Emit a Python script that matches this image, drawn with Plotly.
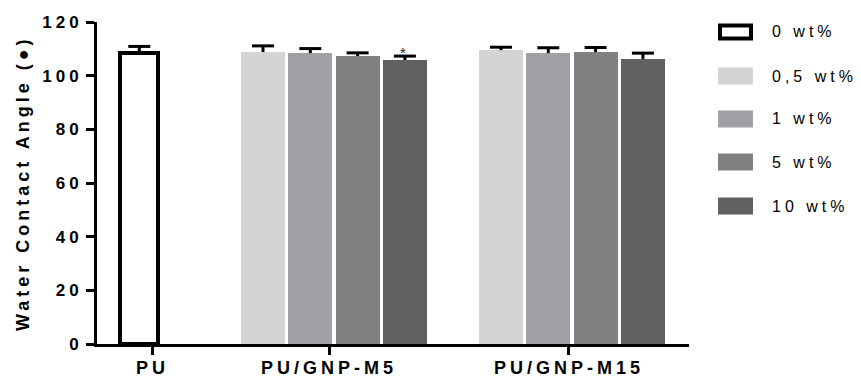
import plotly.graph_objects as go

# ---- data ----
categories = ["PU", "PU/GNP-M5", "PU/GNP-M15"]
series_labels = ["0 wt%", "0,5 wt%", "1 wt%", "5 wt%", "10 wt%"]
y_title = "Water Contact Angle (●)"
pu_mean = [108.3]
pu_err = [2.6]
m5_mean = [108.8, 108.4, 107.3, 105.8]
m5_err = [2.3, 1.7, 1.2, 1.5]
m15_mean = [109.5, 108.4, 108.8, 106.2]
m15_err = [1.1, 2.0, 1.7, 2.2]
significant = [False, False, False, True]  # PU/GNP-M5 series marked with *

# ---- layout parameters (positions along a pixel-like x axis) ----
tick_pos = [55.7, 232.0, 471.7]
pu_bar_pos = 42.3
group_first_bar = {"PU/GNP-M5": 166.0, "PU/GNP-M15": 404.0}
bar_pitch = 47.3
bar_w = 44
cap_half = 11
colors = ["#ffffff", "#d4d4d4", "#a1a0a4", "#808080", "#616161"]
FONT = "Liberation Sans, Arial, sans-serif"

fig = go.Figure()

err_x, err_y = [], []


def add_err(x, m, e):
    err_x.extend([x, x, None, x - cap_half, x + cap_half, None])
    err_y.extend([m, m + e, None, m + e, m + e, None])


# 0 wt% (PU)
fig.add_trace(go.Bar(
    x=[pu_bar_pos], y=pu_mean, width=[38], name=series_labels[0],
    marker=dict(color=colors[0], line=dict(color="black", width=4)),
    showlegend=False,
))
add_err(pu_bar_pos, pu_mean[0], pu_err[0])

for i in range(4):
    xs = [group_first_bar["PU/GNP-M5"] + i * bar_pitch,
          group_first_bar["PU/GNP-M15"] + i * bar_pitch]
    ys = [m5_mean[i], m15_mean[i]]
    es = [m5_err[i], m15_err[i]]
    fig.add_trace(go.Bar(
        x=xs, y=ys, width=[bar_w] * 2, name=series_labels[i + 1],
        marker=dict(color=colors[i + 1], line=dict(width=0)),
        showlegend=False,
    ))
    for xx, yy, ee in zip(xs, ys, es):
        add_err(xx, yy, ee)
    if significant[i]:
        fig.add_annotation(x=xs[0], y=m5_mean[i] + m5_err[i], text="*",
                           showarrow=False, yanchor="bottom", yshift=-7,
                           font=dict(family=FONT, size=15, color="#222"))

fig.add_trace(go.Scatter(x=err_x, y=err_y, mode="lines",
                         line=dict(color="black", width=3),
                         hoverinfo="skip", showlegend=False))

# ---- category labels (as text under the ticks) ----
for tp, cat in zip(tick_pos, categories):
    fig.add_annotation(x=tp, y=0, xref="x", yref="y", text=cat, showarrow=False,
                       xanchor="center", yanchor="top", yshift=-13, borderpad=0,
                       font=dict(family=FONT, size=18, weight="bold", color="black"))

# ---- manual legend ----
W, Hpx = 861, 378
ml, mr, mt, mb = 97, 172, 22, 34
pw, ph = W - ml - mr, Hpx - mt - mb


def px_x(p):
    return (p - ml) / pw


def px_y(p):
    return (Hpx - mb - p) / ph


legend_y = [32, 76, 119, 162, 206]
for k, lab in enumerate(series_labels):
    cy = legend_y[k]
    if k == 0:
        fig.add_shape(type="rect", xref="paper", yref="paper",
                      x0=px_x(720), x1=px_x(751), y0=px_y(cy + 6.5), y1=px_y(cy - 6.5),
                      line=dict(color="black", width=4), fillcolor="white")
    else:
        fig.add_shape(type="rect", xref="paper", yref="paper",
                      x0=px_x(718), x1=px_x(753), y0=px_y(cy + 8.5), y1=px_y(cy - 8.5),
                      line=dict(width=0), fillcolor=colors[k])
    fig.add_annotation(xref="paper", yref="paper", x=px_x(771), y=px_y(cy),
                       text=lab, showarrow=False, xanchor="left", yanchor="middle",
                       align="left", borderpad=0,
                       font=dict(family=FONT, size=16, color="black"))

# y-axis title
fig.add_annotation(xref="paper", yref="paper", x=px_x(23), y=0.5,
                   text=y_title, textangle=-90, showarrow=False,
                   xanchor="center", yanchor="middle",
                   font=dict(family=FONT, size=18, weight="bold", color="black"))

fig.update_layout(
    template="none",
    width=W, height=Hpx, autosize=False,
    margin=dict(l=ml, r=mr, t=mt, b=mb),
    paper_bgcolor="white", plot_bgcolor="white",
    barmode="overlay", bargap=0,
    font=dict(family=FONT, color="black"),
    xaxis=dict(range=[0, pw], tickvals=tick_pos, showticklabels=False,
               automargin=False,
               showline=True, linecolor="black", linewidth=3,
               ticks="outside", ticklen=8, tickwidth=3, tickcolor="black",
               showgrid=False, zeroline=False),
    yaxis=dict(range=[0, 120], dtick=20, tick0=0,
               automargin=False,
               showline=True, linecolor="black", linewidth=3,
               ticks="outside", ticklen=8, tickwidth=3, tickcolor="black",
               showgrid=False, zeroline=False,
               tickfont=dict(family=FONT, size=17, weight="bold", color="black")),
)

post = """
function sp(sel, v){document.querySelectorAll(sel).forEach(function(e){e.style.letterSpacing=v;});}
sp('.ytick text', '4px');
sp('.annotation-text', '4px');
"""

fig.write_html("out.html", post_script=post)
